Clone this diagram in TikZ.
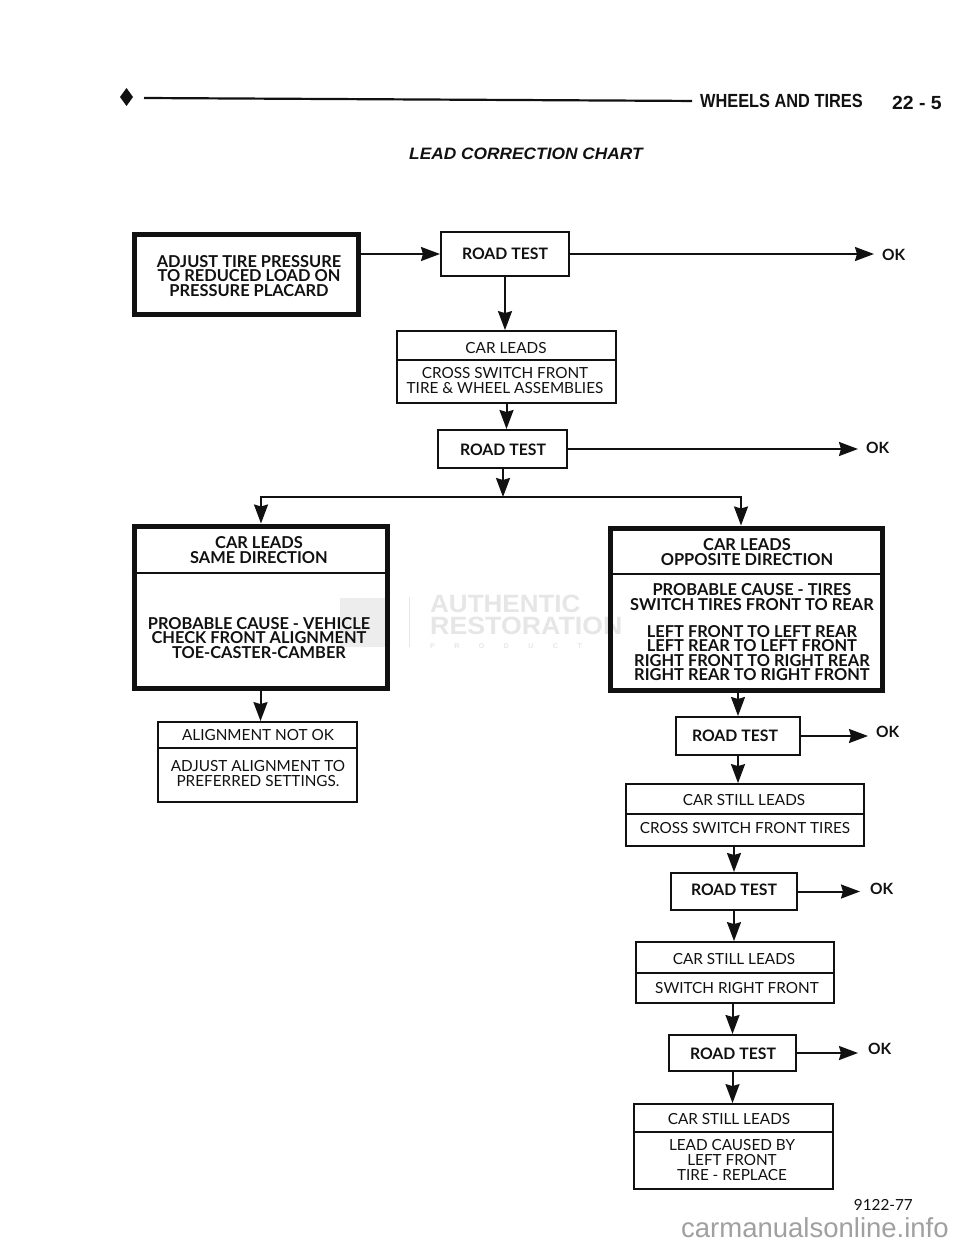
\documentclass[tikz,border=0pt]{standalone}
\usepackage{fontspec}
\setmainfont{Lato}
\newfontfamily\hdfont{Liberation Sans}
\usetikzlibrary{fit,arrows.meta}
\definecolor{ink}{HTML}{111111}
\definecolor{wm}{HTML}{E6E6E6}
\definecolor{wmb}{HTML}{EDEDED}
\definecolor{site}{HTML}{A0A0A0}
\tikzset{
 thickbox/.style={draw=ink,line width=5pt,inner sep=0pt},
 rtbox/.style={draw=ink,line width=2pt,inner sep=0pt},
 thinbox/.style={draw=ink,line width=1.8pt,inner sep=0pt},
 divider/.style={draw=ink,line width=1.8pt},
 arr/.style={draw=ink,line width=2pt,-{Stealth[length=19pt,width=14pt,inset=2pt]}},
 boldtxt/.style={text=ink,align=center,inner sep=0pt,font=\fontsize{16.4}{14.6}\selectfont\bfseries},
 rttxt/.style={text=ink,align=center,inner sep=0pt,font=\fontsize{15.8}{15}\selectfont\bfseries},
 regtxt/.style={text=ink,align=center,inner sep=0pt,font=\fontsize{15.3}{15}\selectfont},
 oktxt/.style={text=ink,inner sep=0pt,font=\fontsize{15.5}{15}\selectfont\bfseries},
 hdtxt/.style={text=ink,inner sep=0pt,font=\hdfont\fontsize{19}{19}\selectfont\bfseries},
 wmtxt/.style={text=wm,inner sep=0pt,anchor=west,font=\hdfont\fontsize{25}{25}\selectfont\bfseries},
}
\begin{document}
\begin{tikzpicture}[x=1pt,y=-1pt]
\useasboundingbox[fill=white] (0,0) rectangle (960,1242);
% header
\fill[ink] (126.5,88) -- (133,97) -- (126.5,106) -- (120,97) -- cycle;
\node[hdtxt,xscale=.86,anchor=west] (head) at (700,101) {WHEELS AND TIRES};
\node[hdtxt,xscale=1.02,anchor=west] (page) at (892,103) {22 - 5};
\coordinate (rulea) at (144,98);
\draw[ink,line width=2.2pt,shorten >=8pt] (rulea) -- (head.west);
\node[text=ink,inner sep=0pt,font=\hdfont\fontsize{16.5}{17}\selectfont\bfseries\itshape,xscale=1.05] (title) at (526,154) {LEAD CORRECTION CHART};
% watermark
\fill[wmb] (340,598) rectangle (385,647);
\fill[wm] (409,597) rectangle (410,647);
\node[wmtxt,xscale=1.04] (wa) at (430,604) {AUTHENTIC};
\node[wmtxt,xscale=1.07] (wb) at (430,626) {RESTORATION};
\node[text=wm,inner sep=0pt,anchor=west,font=\hdfont\fontsize{7}{7}\selectfont\bfseries] (wc) at (430,646) {P\hspace{19.5pt}R\hspace{19.5pt}O\hspace{19.5pt}D\hspace{19.5pt}U\hspace{19.5pt}C\hspace{19.5pt}T};
% boxes
\node[thickbox,fit={(134,234)(358,314)}] (adjust) {};
\node[rtbox,fit={(441,232)(569,276)}] (rt1) {};
\node[thinbox,fit={(397,331)(616,403)}] (cross) {};
\node[rtbox,fit={(438,430)(567,468)}] (rt2) {};
\node[thickbox,fit={(134,526)(387,688)}] (same) {};
\node[thickbox,fit={(610,528)(882,690)}] (opp) {};
\node[thinbox,fit={(158,722)(357,802)}] (align) {};
\node[rtbox,fit={(676,717)(800,755)}] (rt3) {};
\node[thinbox,fit={(626,784)(864,846)}] (still1) {};
\node[rtbox,fit={(671,873)(797,910)}] (rt4) {};
\node[thinbox,fit={(636,942)(834,1003)}] (still2) {};
\node[rtbox,fit={(669,1035)(796,1071)}] (rt5) {};
\node[thinbox,fit={(634,1104)(833,1189)}] (still3) {};
% dividers
\draw[divider] (cross.west |- 0,360) -- (cross.east |- 0,360);
\draw[divider] (same.west |- 0,573) -- (same.east |- 0,573);
\draw[divider] (opp.west |- 0,574) -- (opp.east |- 0,574);
\draw[divider] (align.west |- 0,748) -- (align.east |- 0,748);
\draw[divider] (still1.west |- 0,814) -- (still1.east |- 0,814);
\draw[divider] (still2.west |- 0,973) -- (still2.east |- 0,973);
\draw[divider] (still3.west |- 0,1132) -- (still3.east |- 0,1132);
% text
\node[boldtxt] (t1) at (249,276) {ADJUST TIRE PRESSURE\\TO REDUCED LOAD ON\\PRESSURE PLACARD};
\node[rttxt] (t2) at (505,254) {ROAD TEST};
\node[regtxt] (t3) at (506,348) {CAR LEADS};
\node[regtxt] (t4) at (505,381) {CROSS SWITCH FRONT\\TIRE \& WHEEL ASSEMBLIES};
\node[rttxt] (t5) at (503,450) {ROAD TEST};
\node[boldtxt] (t6) at (259,550) {CAR LEADS\\SAME DIRECTION};
\node[boldtxt] (t7) at (259,638) {PROBABLE CAUSE - VEHICLE\\CHECK FRONT ALIGNMENT\\TOE-CASTER-CAMBER};
\node[boldtxt] (t8) at (747,552) {CAR LEADS\\OPPOSITE DIRECTION};
\node[boldtxt] (t9) at (752,597) {PROBABLE CAUSE - TIRES\\SWITCH TIRES FRONT TO REAR};
\node[boldtxt] (t10) at (752,653) {LEFT FRONT TO LEFT REAR\\LEFT REAR TO LEFT FRONT\\RIGHT FRONT TO RIGHT REAR\\RIGHT REAR TO RIGHT FRONT};
\node[regtxt] (t11) at (258,735) {ALIGNMENT NOT OK};
\node[regtxt] (t12) at (258,774) {ADJUST ALIGNMENT TO\\PREFERRED SETTINGS.};
\node[rttxt] (t13) at (735,736) {ROAD TEST};
\node[regtxt] (t14) at (744,800) {CAR STILL LEADS};
\node[regtxt] (t15) at (745,828) {CROSS SWITCH FRONT TIRES};
\node[rttxt] (t16) at (734,890) {ROAD TEST};
\node[regtxt] (t17) at (734,959) {CAR STILL LEADS};
\node[regtxt] (t18) at (737,988) {SWITCH RIGHT FRONT};
\node[rttxt] (t19) at (733,1054) {ROAD TEST};
\node[regtxt] (t20) at (729,1119) {CAR STILL LEADS};
\node[regtxt] (t21) at (732,1160) {LEAD CAUSED BY\\LEFT FRONT\\TIRE - REPLACE};
\node[oktxt,anchor=west] (ok1) at (882,255) {OK};
\node[oktxt,anchor=west] (ok2) at (866,448) {OK};
\node[oktxt,anchor=west] (ok3) at (876,732) {OK};
\node[oktxt,anchor=west] (ok4) at (870,889) {OK};
\node[oktxt,anchor=west] (ok5) at (868,1049) {OK};
\node[regtxt,anchor=east] (code) at (913,1205) {9122-77};
\node[text=site,inner sep=0pt,anchor=west,font=\hdfont\fontsize{27.5}{28}\selectfont] (site) at (681,1228) {carmanualsonline.info};
% connectors
\draw[arr] (adjust.east |- rt1.west) -- (rt1.west);
\draw[arr,shorten >=8pt] (rt1.east) -- (rt1.east -| ok1.west);
\draw[arr] (rt1.south) -- (rt1.south |- cross.north);
\draw[arr] (cross.south) -- (cross.south |- rt2.north);
\draw[arr,shorten >=8pt] (rt2.east) -- (rt2.east -| ok2.west);
\coordinate (branch) at (503,497);
\draw[arr] (rt2.south -| branch) -- (branch);
\draw[arr] (branch) -| (same.north -| 261,0);
\draw[arr] (branch) -| (opp.north -| 741,0);
\draw[arr] (same.south) -- (same.south |- align.north);
\draw[arr] (rt3.north |- opp.south) -- (rt3.north);
\draw[arr,shorten >=8pt] (rt3.east) -- (rt3.east -| ok3.west);
\draw[arr] (rt3.south) -- (rt3.south |- still1.north);
\draw[arr] (rt4.north |- still1.south) -- (rt4.north);
\draw[arr,shorten >=10pt] (rt4.east) -- (rt4.east -| ok4.west);
\draw[arr] (rt4.south) -- (rt4.south |- still2.north);
\draw[arr] (rt5.north |- still2.south) -- (rt5.north);
\draw[arr,shorten >=10pt] (rt5.east) -- (rt5.east -| ok5.west);
\draw[arr] (rt5.south) -- (rt5.south |- still3.north);
\end{tikzpicture}
\end{document}
